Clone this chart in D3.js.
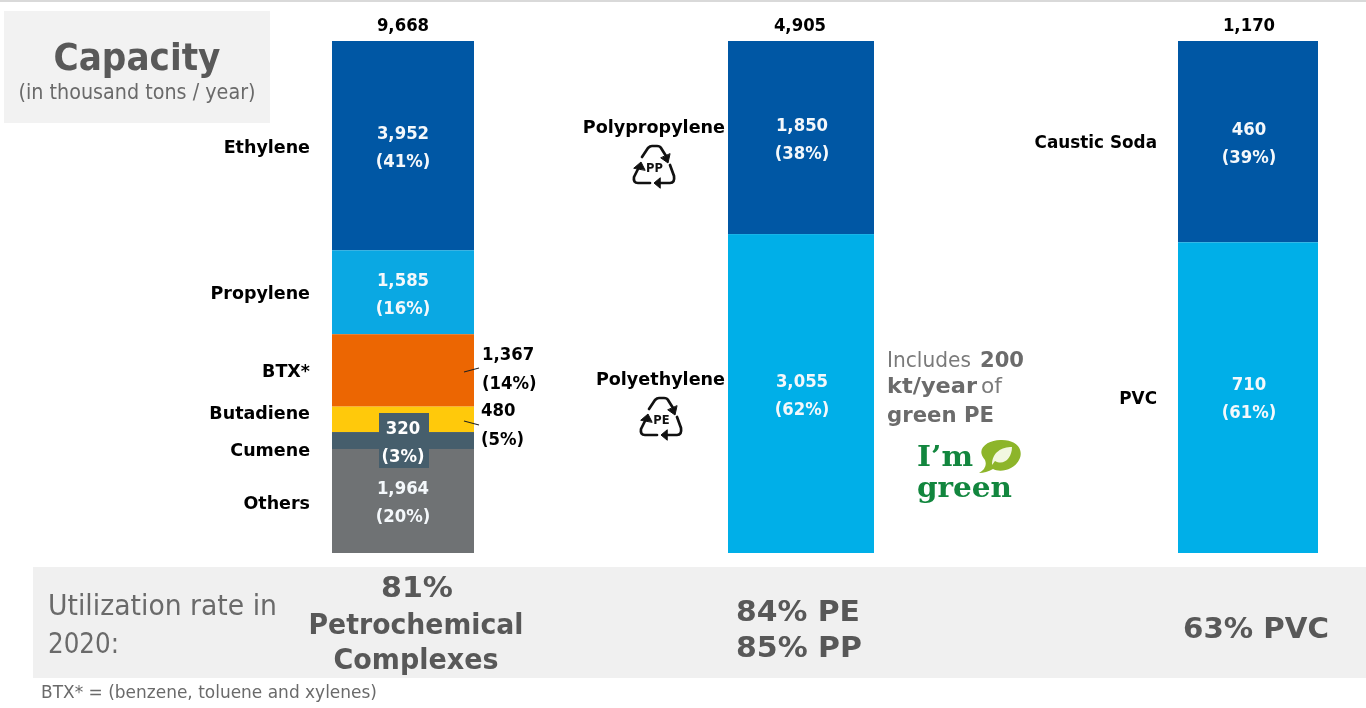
<!DOCTYPE html>
<html><head><meta charset="utf-8">
<style>html,body{margin:0;padding:0;background:#fff;overflow:hidden}svg{display:block;filter:blur(.35px)}text{font-family:"DejaVu Sans",sans-serif}</style>
<script src="https://cdn.jsdelivr.net/npm/d3@7/dist/d3.min.js"></script>
</head><body><svg id="c" width="1366" height="708"></svg>
<script>
const complexCategories = ["Ethylene","Propylene","BTX*","Butadiene","Cumene","Others"];
const complexValues = [3952,1585,1367,480,320,1964];
const complexShares = [41,16,14,5,3,20];
const complexTotal = 9668;
const polymerCategories = ["Polypropylene","Polyethylene"];
const polymerValues = [1850,3055];
const polymerShares = [38,62];
const polymerTotal = 4905;
const chlorCategories = ["Caustic Soda","PVC"];
const chlorValues = [460,710];
const chlorShares = [39,61];
const chlorTotal = 1170;

const svg = d3.select("#c");
const fmt = d3.format(",");
const DARK="#0057a4", LIGHT="#00afe8", fills1=[DARK,"#0aa8e3","#ec6602","#ffc90b","#465e6c","#6f7274"];
const y0=553,y1=41;
function scaleFor(total){return d3.scaleLinear().domain([0,total]).range([y0,y1]);}
const BOLD=700;
function txt(x,y,s,o={}){
  return svg.append("text").attr("x",x).attr("y",y).attr("text-anchor",o.a||"middle")
   .attr("font-size",o.fs||16.5).attr("font-weight",o.w||400).attr("fill",o.c||"#000")
   .attr("textLength",o.tl||null).attr("lengthAdjust",o.tl?"spacingAndGlyphs":null).text(s);
}
// taller, narrower bold label: width measured at 16.5px, drawn at 18px
function lab(x,y,s,o={},factor=1){
  const t=txt(x,y,s,{w:BOLD,fs:16.5,...o});
  const L=t.node().getComputedTextLength();
  t.attr("font-size",18).attr("textLength",L*factor).attr("lengthAdjust","spacingAndGlyphs");
  return t;
}
// top rule and panels
svg.append("rect").attr("x",0).attr("y",0).attr("width",1366).attr("height",2).attr("fill","#d9d9d9");
svg.append("rect").attr("x",4).attr("y",11).attr("width",266).attr("height",112).attr("fill","#f2f2f2");
svg.append("rect").attr("x",33).attr("y",567).attr("width",1333).attr("height",111).attr("fill","#f0f0f0");

function stack(vals,total,x,w,colors){
  const y=scaleFor(total);let acc=total;
  const sum=d3.sum(vals);
  vals.forEach((v,i)=>{
    const top=y(acc), bot=y(acc-v*total/sum);
    svg.append("rect").attr("x",x).attr("y",top).attr("width",w).attr("height",bot-top).attr("fill",colors[i]);
    acc-=v*total/sum;
  });
}

// Bar 1
const cx1=403;
stack(complexValues,complexTotal,332,142,fills1);
lab(cx1,31,fmt(complexTotal));
// Cumene label backing
svg.append("rect").attr("x",379).attr("y",413).attr("width",50).attr("height",55).attr("fill","#465e6c");
[[0,139],[1,286],[5,494]].forEach(([i,yy])=>{
  lab(cx1,yy,fmt(complexValues[i]),{c:"#f4f8fb"});
  lab(cx1,yy+28,`(${complexShares[i]}%)`,{c:"#f4f8fb"});
});
lab(cx1,434,fmt(complexValues[4]),{c:"#fff"});
lab(cx1,462,`(${complexShares[4]}%)`,{c:"#fff"});
// outside labels
lab(482,360,fmt(complexValues[2]),{a:"start"});
lab(482,389,`(${complexShares[2]}%)`,{a:"start"});
lab(481,416,fmt(complexValues[3]),{a:"start"});
lab(481,445,`(${complexShares[3]}%)`,{a:"start"});
svg.append("line").attr("x1",464).attr("y1",372).attr("x2",479).attr("y2",368).attr("stroke","#222").attr("stroke-width",1.2);
svg.append("line").attr("x1",464).attr("y1",421).attr("x2",479).attr("y2",425).attr("stroke","#222").attr("stroke-width",1.2);
const catY=[153,299,377,419,456,509];
complexCategories.forEach((c,i)=>lab(310,catY[i],c,{a:"end"},1.06));

// Bar 2
stack(polymerValues,polymerTotal,728,146,[DARK,LIGHT]);
lab(800,31,fmt(polymerTotal));
[[0,131],[1,387]].forEach(([i,yy])=>{
  lab(802,yy,fmt(polymerValues[i]),{c:"#f4f8fb"});
  lab(802,yy+28,`(${polymerShares[i]}%)`,{c:"#f4f8fb"});
});
lab(725,133,polymerCategories[0],{a:"end"},1.065);
lab(725,385,polymerCategories[1],{a:"end"},1.065);

// recycling symbols
function recycle(cx,cy,label){
  const g=svg.append("g").attr("transform",`translate(${cx},${cy})`)
    .attr("fill","none").attr("stroke","#111").attr("stroke-width",2.7).attr("stroke-linejoin","round").attr("stroke-linecap","round");
  g.append("path").attr("d","M-12,-11 L-6,-20 Q-4,-22 -2,-22 L3,-22 Q6,-22 7,-20 L12,-12");
  g.append("path").attr("d","M16,-14 L14,-5 L7,-10 Z").attr("fill","#111").attr("stroke-width",1);
  g.append("path").attr("d","M16,-3 L20,8 Q21,15 16,15 L5,15");
  g.append("path").attr("d","M6,10 L0,15 L6,20 Z").attr("fill","#111").attr("stroke-width",1);
  g.append("path").attr("d","M-4,15 L-16,15 Q-21,15 -20,9 L-15,-1");
  g.append("path").attr("d","M-20,0 L-13,-6 L-9,2 Z").attr("fill","#111").attr("stroke-width",1);
  g.append("text").attr("x",0.5).attr("y",4).attr("text-anchor","middle").attr("font-size",11.5).attr("font-weight",700)
    .attr("fill","#111").attr("stroke","none").text(label);
}
recycle(654,168,"PP");
recycle(661,420,"PE");

// Green note
txt(887,367,"Includes ",{a:"start",c:"#7a7a7a",fs:21.5,tl:84});
txt(980,367,"200",{a:"start",c:"#6b6b6b",fs:22,w:BOLD,tl:44});
txt(887,393,"kt/year",{a:"start",c:"#6b6b6b",fs:21.5,w:BOLD,tl:90});
txt(981,393,"of",{a:"start",c:"#7a7a7a",fs:21.5,tl:21});
txt(887,422,"green PE",{a:"start",c:"#6b6b6b",fs:21.5,w:BOLD,tl:107});
txt(917,466,"I\u2019m",{a:"start",c:"#12863e",fs:27,w:BOLD,tl:56}).style("font-family","'DejaVu Serif',serif");
txt(917,497,"green",{a:"start",c:"#12863e",fs:27,w:BOLD,tl:95}).style("font-family","'DejaVu Serif',serif");
svg.append("path").attr("d","M979,473 Q988,468 985,460 C974,448 990,439 1002,440 C1018,440 1024,451 1019,460 C1014,470 1000,473 993,469 Q986,473 979,473 Z").attr("fill","#8db52a");
svg.append("path").attr("d","M992,465 C992,452 1002,447 1012,447 C1012,458 1004,466 995,461 Z").attr("fill","#f2f7e0");

// Bar 3
stack(chlorValues,chlorTotal,1178,140,[DARK,LIGHT]);
lab(1249,31,fmt(chlorTotal));
[[0,135],[1,390]].forEach(([i,yy])=>{
  lab(1249,yy,fmt(chlorValues[i]),{c:"#f4f8fb"});
  lab(1249,yy+28,`(${chlorShares[i]}%)`,{c:"#f4f8fb"});
});
lab(1157,148,chlorCategories[0],{a:"end"},1.02);
lab(1157,404,chlorCategories[1],{a:"end"},1.02);

// Header
txt(137,70,"Capacity",{w:BOLD,c:"#595959",fs:38,tl:167});
txt(137,99,"(in thousand tons / year)",{c:"#6a6a6a",fs:21.5,tl:237});

// Utilization band
txt(48,615,"Utilization rate in",{a:"start",c:"#6a6a6a",fs:29,tl:229});
txt(48,653,"2020:",{a:"start",c:"#6a6a6a",fs:29,tl:71});
const G="#585858";
txt(417,597,"81%",{w:BOLD,c:G,fs:29,tl:72});
txt(416,634,"Petrochemical",{w:BOLD,c:G,fs:29,tl:215});
txt(416,669,"Complexes",{w:BOLD,c:G,fs:29,tl:165});
txt(798,621,"84% PE",{w:BOLD,c:G,fs:29,tl:124});
txt(799,657,"85% PP",{w:BOLD,c:G,fs:29,tl:126});
txt(1256,638,"63% PVC",{w:BOLD,c:G,fs:29,tl:146});
txt(41,698,"BTX* = (benzene, toluene and xylenes)",{a:"start",c:"#6a6a6a",fs:17,tl:336});
</script></body></html>
